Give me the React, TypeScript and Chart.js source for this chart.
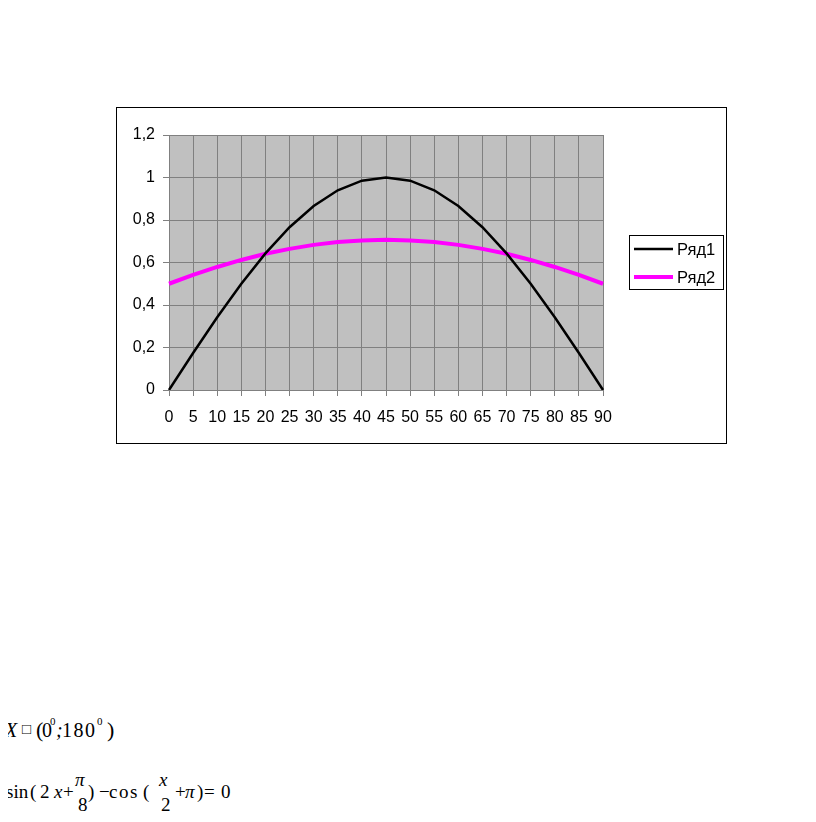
import React, { useEffect, useRef } from "react";
import { Chart, registerables } from "chart.js";

Chart.register(...registerables);

const categories = ["0", "5", "10", "15", "20", "25", "30", "35", "40", "45", "50", "55", "60", "65", "70", "75", "80", "85", "90"];
const series1Name = "Ряд1";
const series1 = [0, 0.174, 0.342, 0.5, 0.643, 0.766, 0.866, 0.94, 0.985, 1, 0.985, 0.94, 0.866, 0.766, 0.643, 0.5, 0.342, 0.174, 0];
const series2Name = "Ряд2";
const series2 = [0.5, 0.542, 0.579, 0.612, 0.641, 0.664, 0.683, 0.696, 0.704, 0.707, 0.704, 0.696, 0.683, 0.664, 0.641, 0.612, 0.579, 0.542, 0.5];
const yMin = 0;
const yMax = 1.2;
const yStep = 0.2;

const W = 611;
const H = 337;
const FONT = '"Liberation Sans", Arial, sans-serif';

const framePlugin = {
  id: "frame",
  beforeDraw(chart: any) {
    const { ctx, chartArea } = chart;
    ctx.save();
    ctx.fillStyle = "#ffffff";
    ctx.fillRect(0, 0, chart.width, chart.height);
    ctx.fillStyle = "#c0c0c0";
    ctx.fillRect(chartArea.left, chartArea.top, chartArea.right - chartArea.left, chartArea.bottom - chartArea.top);
    ctx.strokeStyle = "#000000";
    ctx.lineWidth = 1;
    ctx.strokeRect(0.5, 0.5, chart.width - 1, chart.height - 1);
    ctx.restore();
  },
  afterDraw(chart: any) {
    const { ctx } = chart;
    const bx = 513, by = 128, bw = 94, bh = 54;
    ctx.save();
    ctx.fillStyle = "#ffffff";
    ctx.fillRect(bx, by, bw, bh);
    ctx.strokeStyle = "#000000";
    ctx.lineWidth = 1;
    ctx.strokeRect(bx + 0.5, by + 0.5, bw, bh);
    const rows = [142, 170];
    chart.data.datasets.forEach((ds: any, i: number) => {
      const y = rows[i];
      ctx.strokeStyle = ds.borderColor;
      ctx.lineWidth = ds.borderWidth;
      ctx.beginPath();
      ctx.moveTo(518, y);
      ctx.lineTo(557, y);
      ctx.stroke();
      ctx.fillStyle = "#000000";
      ctx.font = `16.5px ${FONT}`;
      ctx.textBaseline = "middle";
      ctx.textAlign = "left";
      ctx.fillText(ds.label, 561, y + 1);
    });
    ctx.restore();
  },
};

function ChartBox() {
  const ref = useRef<HTMLCanvasElement>(null);
  useEffect(() => {
    if (!ref.current) return;
    const chart = new Chart(ref.current, {
      type: "line",
      data: {
        labels: categories,
        datasets: [
          { label: series1Name, data: series1, borderColor: "#000000", borderWidth: 2.5, pointRadius: 0, tension: 0, fill: false },
          { label: series2Name, data: series2, borderColor: "#ff00ff", borderWidth: 4, pointRadius: 0, tension: 0, fill: false },
        ],
      },
      options: {
        animation: false,
        responsive: false,
        devicePixelRatio: 1,
        layout: { padding: { left: 0, right: 124, top: 28, bottom: 0 } },
        plugins: { legend: { display: false }, tooltip: { enabled: false } },
        scales: {
          x: {
            offset: false,
            grid: { color: "#808080", lineWidth: 1, drawTicks: true, tickLength: 6, tickColor: "#808080" },
            border: { color: "#808080" },
            ticks: { font: { family: FONT, size: 16 }, color: "#000000", maxRotation: 0, autoSkip: false, padding: 12 },
            afterFit: (s: any) => { s.height = 54; },
          },
          y: {
            min: yMin,
            max: yMax,
            grid: { color: "#808080", lineWidth: 1, drawTicks: true, tickLength: 6, tickColor: "#808080" },
            border: { color: "#808080" },
            ticks: {
              stepSize: yStep,
              font: { family: FONT, size: 16 },
              color: "#000000",
              padding: 8,
              callback: (v: any) => String(Number(Number(v).toFixed(1))).replace(".", ","),
            },
            afterFit: (s: any) => { s.width = 53; },
          },
        },
      },
      plugins: [framePlugin],
    });
    return () => chart.destroy();
  }, []);
  return <canvas ref={ref} width={W} height={H} style={{ position: "absolute", left: 108, top: 99, width: W, height: H }} />;
}

const serif = '"Liberation Serif", "Times New Roman", serif';

function Piece({ x, y, size = 19, italic = false, spacing = 0, children }: { x: number; y: number; size?: number; italic?: boolean; spacing?: number; children: React.ReactNode }) {
  return (
    <span
      style={{
        position: "absolute",
        left: x - 8,
        top: y - 8,
        fontFamily: serif,
        fontSize: size,
        lineHeight: `${size}px`,
        fontStyle: italic ? "italic" : "normal",
        letterSpacing: spacing,
        whiteSpace: "nowrap",
      }}
    >
      {children}
    </span>
  );
}

export default function App() {
  return (
    <div style={{ position: "relative", width: 800, height: 806, background: "#fff" }}>
      <ChartBox />
      {/* X ∈ (0°; 180°) */}
      <Piece x={5} y={720} size={20} italic>X</Piece>
      <Piece x={22} y={722} size={15}>{"\u25A1"}</Piece>
      <Piece x={36} y={719} size={22}>(</Piece>
      <Piece x={42} y={720} size={20}>0</Piece>
      <Piece x={50} y={716} size={11}>0</Piece>
      <Piece x={56} y={720} size={20} italic>;</Piece>
      <Piece x={62} y={720} size={20} spacing={1.5}>180</Piece>
      <Piece x={97} y={716} size={11}>0</Piece>
      <Piece x={107} y={719} size={22}>)</Piece>
      {/* sin(2x + π/8) − cos(x/2 + π) = 0 */}
      <Piece x={6} y={782}>sin</Piece>
      <Piece x={30} y={782}>(</Piece>
      <Piece x={40} y={782}>2</Piece>
      <Piece x={54} y={782} italic>x</Piece>
      <Piece x={63} y={782}>+</Piece>
      <Piece x={75} y={770} italic>π</Piece>
      <Piece x={78} y={795}>8</Piece>
      <Piece x={88} y={782}>)</Piece>
      <Piece x={99} y={782}>−</Piece>
      <Piece x={109} y={782} spacing={1.5}>cos</Piece>
      <Piece x={143} y={782}>(</Piece>
      <Piece x={159} y={770} italic>x</Piece>
      <Piece x={161} y={795}>2</Piece>
      <Piece x={175} y={782}>+</Piece>
      <Piece x={185} y={782} italic>π</Piece>
      <Piece x={197} y={782}>)</Piece>
      <Piece x={204} y={782}>=</Piece>
      <Piece x={221} y={782}>0</Piece>
    </div>
  );
}
